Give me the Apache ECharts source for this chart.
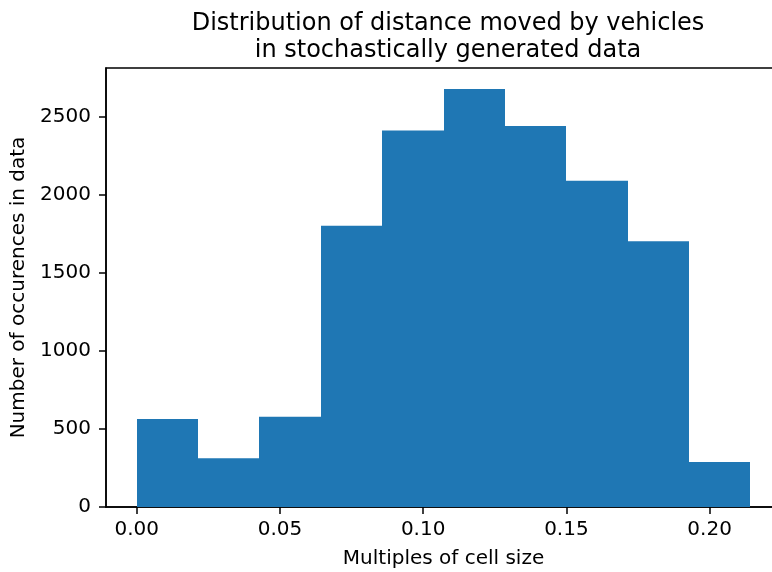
<!DOCTYPE html>
<html>
<head>
<meta charset="utf-8">
<script src="https://cdn.jsdelivr.net/npm/echarts@6/dist/echarts.min.js"></script>
<style>
html,body{margin:0;padding:0;background:#fff;overflow:hidden;}
#chart{width:772px;height:572px;}
</style>
</head>
<body>
<div id="chart"></div>
<script>
const binEdges = [0, 0.02142, 0.04284, 0.06426, 0.08568, 0.1071, 0.12852, 0.14994, 0.17136, 0.19278, 0.2142];
const counts = [564, 313, 579, 1803, 2414, 2680, 2442, 2092, 1704, 288];
const xTicks = [0, 0.05, 0.1, 0.15, 0.2];
const yTicks = [0, 500, 1000, 1500, 2000, 2500];
const titleText = 'Distribution of distance moved by vehicles\nin stochastically generated data';
const xName = 'Multiples of cell size';
const yName = 'Number of occurences in data';

const histData = counts.map((c, i) => [binEdges[i], binEdges[i + 1], c]);

const FONT = 'DejaVu Sans';
const chart = echarts.init(document.getElementById('chart'), null, {renderer: 'canvas'});
chart.setOption({
  animation: false,
  backgroundColor: '#fff',
  title: {
    text: titleText,
    left: 443,
    top: 5,
    textAlign: 'center',
    textStyle: {fontFamily: FONT, fontSize: 24, fontWeight: 'normal', color: '#000', lineHeight: 27}
  },
  grid: {
    left: 106, right: -9, top: 68, bottom: 65,
    containLabel: false,
    outerBoundsMode: 'none',
    show: true, borderColor: '#000', borderWidth: 1.5, backgroundColor: 'transparent'
  },
  xAxis: {
    type: 'value',
    min: -0.01071,
    max: 0.22491,
    name: xName,
    nameLocation: 'middle',
    nameGap: 42,
    nameTextStyle: {fontFamily: FONT, fontSize: 20, color: '#000'},
    axisLine: {show: true, onZero: false, lineStyle: {color: '#000', width: 1.5}},
    axisTick: {show: true, customValues: xTicks, length: 7, lineStyle: {color: '#000', width: 1.5}},
    axisLabel: {customValues: xTicks, margin: 13, fontFamily: FONT, fontSize: 20, color: '#000',
      formatter: v => v.toFixed(2)},
    splitLine: {show: false}
  },
  yAxis: {
    type: 'value',
    min: 0,
    max: 2814,
    name: yName,
    nameLocation: 'middle',
    nameGap: 70,
    nameTextStyle: {fontFamily: FONT, fontSize: 20, color: '#000'},
    axisLine: {show: true, onZero: false, lineStyle: {color: '#000', width: 1.5}},
    axisTick: {show: true, customValues: yTicks, length: 7, lineStyle: {color: '#000', width: 1.5}},
    axisLabel: {customValues: yTicks, margin: 15, fontFamily: FONT, fontSize: 20, color: '#000',
      formatter: v => String(v)},
    splitLine: {show: false}
  },
  series: [{
    type: 'custom',
    clip: true,
    z: 1,
    encode: {x: [0, 1], y: 2},
    data: histData,
    renderItem: function (params, api) {
      const p0 = api.coord([api.value(0), api.value(2)]);
      const p1 = api.coord([api.value(1), 0]);
      const x0 = Math.round(p0[0]);
      const x1 = Math.round(p1[0]);
      return {
        type: 'rect',
        shape: {x: x0, y: p0[1], width: x1 - x0, height: p1[1] - p0[1]},
        style: {fill: '#1f77b4'}
      };
    }
  }]
});
</script>
</body>
</html>
